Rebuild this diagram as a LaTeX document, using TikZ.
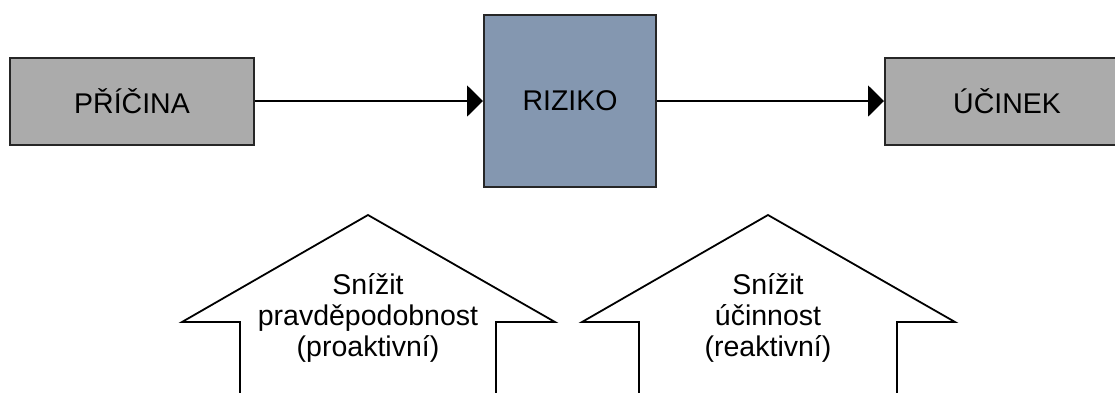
\documentclass[tikz,border=0pt]{standalone}
\usepackage{fontspec}
\setmainfont{Liberation Sans}
\usetikzlibrary{arrows.meta, positioning}
\definecolor{boxgray}{RGB}{171,171,171}
\definecolor{riskblue}{RGB}{132,151,176}
\tikzset{
  block/.style = {align=center, inner sep=0pt, draw=black!85,
    line width=2pt, font=\fontsize{28.5}{31}\selectfont},
  cause/.style = {block, fill=boxgray, minimum width=244pt,
    minimum height=87pt},
  risk/.style = {block, fill=riskblue, minimum width=172pt,
    minimum height=172pt},
  upshape/.style = {draw=black, line width=1.8pt, line join=miter},
  note/.style = {align=center, inner sep=0pt,
    font=\fontsize{28.5}{31}\selectfont}
}

\begin{document}
\begin{tikzpicture}[x=1pt, y=-1pt, ->, >={Triangle[length=16pt, width=31pt]},
  line width=2pt]
\useasboundingbox (0,0) rectangle (1115,392);
\clip (0,0) rectangle (1115,392);
% top row
\node [cause] (cause) at (132,101) {PŘÍČINA};
\node [risk, right=228pt of cause] (risk) {RIZIKO};
\node [cause, right=227pt of risk] (effect) {ÚČINEK};
\draw (cause) -- (risk);
\draw (risk) -- (effect);
% up arrows
\draw [upshape, -] (240,400) -- (240,322) -- (182,322) -- (368,215)
  -- (555,322) -- (496,322) -- (496,400);
\draw [upshape, -] (639,400) -- (639,322) -- (582,322) -- (768,215)
  -- (955,322) -- (897,322) -- (897,400);
\node [note] (proactive) at (368,318) {Snížit\\pravděpodobnost\\(proaktivní)};
\node [note] (reactive) at (768,318) {Snížit\\účinnost\\(reaktivní)};
\end{tikzpicture}
\end{document}
